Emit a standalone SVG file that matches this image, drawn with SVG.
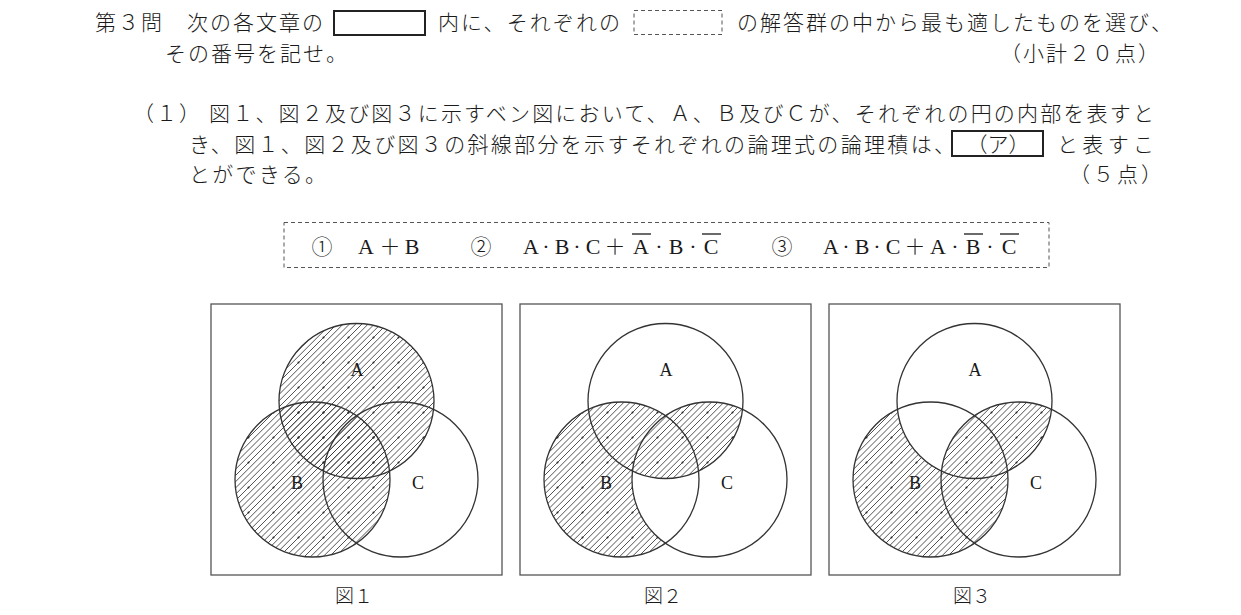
<svg xmlns="http://www.w3.org/2000/svg" width="1241" height="615" viewBox="0 0 1241 615">
<style>
  .jp { font-family: "Noto Sans CJK JP", "Noto Sans CJK SC", sans-serif; font-size: 21px; font-weight: 300; fill: #1a1a1a; }
  .jpm { font-family: "Noto Sans CJK JP", "Noto Sans CJK SC", sans-serif; font-size: 21px; font-weight: 300; fill: #1a1a1a; text-anchor: middle; }
  .lat { font-family: "Liberation Serif", "Noto Sans CJK JP", serif; font-size: 22px; fill: #1a1a1a; text-anchor: middle; }
  .lbl { font-family: "Liberation Serif", serif; font-size: 18px; fill: #1a1a1a; text-anchor: middle; }
  .cap { font-family: "Noto Sans CJK JP", sans-serif; font-size: 19px; font-weight: 300; fill: #1a1a1a; text-anchor: middle; }
  .frame { fill: none; stroke: #555; stroke-width: 1.3; }
  .circ { fill: none; stroke: #333; stroke-width: 1.3; }
  .hatch { fill: url(#hatch); stroke: none; }
  .solidbox { fill: none; stroke: #222; stroke-width: 2; }
  .dashbox { fill: none; stroke: #555; stroke-width: 1; stroke-dasharray: 4 3; }
  .ovl { stroke: #1a1a1a; stroke-width: 1.3; }
</style>
<defs>
  <pattern id="hatch" patternUnits="userSpaceOnUse" width="25" height="25">
    <path d="M-2,2 L2,-2 M-2,8.25 L8.25,-2 M-2,14.5 L14.5,-2 M-2,20.75 L20.75,-2 M-2,27 L27,-2 M-2,33.25 L33.25,-2 M-2,39.5 L39.5,-2 M-2,45.75 L45.75,-2 M-2,52 L52,-2" stroke="#333" stroke-width="0.85" fill="none"/>
    <circle cx="12.5" cy="12.5" r="1" fill="#222"/>
  </pattern>
  <clipPath id="clipA"><circle cx="145.5" cy="401" r="77.5"/></clipPath>
  <mask id="noC" maskUnits="userSpaceOnUse" x="-10" y="290" width="320" height="300">
    <rect x="-10" y="290" width="320" height="300" fill="#fff"/>
    <circle cx="189.5" cy="479.5" r="77.5" fill="#000"/>
  </mask>
  <mask id="noA" maskUnits="userSpaceOnUse" x="-10" y="290" width="320" height="300">
    <rect x="-10" y="290" width="320" height="300" fill="#fff"/>
    <circle cx="145.5" cy="401" r="77.5" fill="#000"/>
  </mask>
</defs>

<g id="header">
  <text class="jp" x="95" y="30" textLength="228" lengthAdjust="spacing">第３問　次の各文章の</text>
  <rect class="solidbox" x="334" y="11" width="91" height="24"/>
  <text class="jp" x="438" y="30" textLength="182" lengthAdjust="spacing">内に、それぞれの</text>
  <rect class="dashbox" x="634" y="10.5" width="88" height="24"/>
  <text class="jp" x="737" y="30" textLength="435" lengthAdjust="spacing">の解答群の中から最も適したものを選び、</text>
  <text class="jp" x="165" y="61" textLength="182" lengthAdjust="spacing">その番号を記せ。</text>
  <text class="jp" x="1000" y="61" textLength="159" lengthAdjust="spacing">（小計２０点）</text>
</g>

<g id="question">
  <text class="jp" x="133" y="121" textLength="67" lengthAdjust="spacing">（１）</text>
  <text class="jp" x="209" y="121" textLength="945" lengthAdjust="spacing">図１、図２及び図３に示すベン図において、Ａ、Ｂ及びＣが、それぞれの円の内部を表すと</text>
  <text class="jp" x="189" y="152" textLength="766" lengthAdjust="spacing">き、図１、図２及び図３の斜線部分を示すそれぞれの論理式の論理積は、</text>
  <rect class="solidbox" x="952" y="131" width="91" height="25"/>
  <text class="jpm" x="998" y="152">（ア）</text>
  <text class="jp" x="1057" y="152" textLength="97" lengthAdjust="spacing">と表すこ</text>
  <text class="jp" x="189" y="182" textLength="137" lengthAdjust="spacing">とができる。</text>
  <text class="jp" x="1069" y="182" textLength="93" lengthAdjust="spacing">（５点）</text>
</g>

<g id="options">
  <rect class="dashbox" x="284" y="222.5" width="765" height="45"/>
  <text class="jpm" x="322" y="254">①</text>
  <text class="lat" x="366" y="254">A</text>
  <text class="jpm" x="390" y="254">＋</text>
  <text class="lat" x="412" y="254">B</text>

  <text class="jpm" x="481" y="254">②</text>
  <text class="lat" x="531" y="254">A</text>
  <text class="lat" x="546" y="254">·</text>
  <text class="lat" x="562" y="254">B</text>
  <text class="lat" x="577" y="254">·</text>
  <text class="lat" x="593" y="254">C</text>
  <text class="jpm" x="615" y="254">＋</text>
  <text class="lat" x="641" y="254">A</text>
  <text class="lat" x="659" y="254">·</text>
  <text class="lat" x="676" y="254">B</text>
  <text class="lat" x="693" y="254">·</text>
  <text class="lat" x="711" y="254">C</text>
  <line class="ovl" x1="632" y1="234" x2="651" y2="234"/>
  <line class="ovl" x1="702" y1="234" x2="721" y2="234"/>

  <text class="jpm" x="782" y="254">③</text>
  <text class="lat" x="831" y="254">A</text>
  <text class="lat" x="846" y="254">·</text>
  <text class="lat" x="862" y="254">B</text>
  <text class="lat" x="877" y="254">·</text>
  <text class="lat" x="893" y="254">C</text>
  <text class="jpm" x="915" y="254">＋</text>
  <text class="lat" x="938" y="254">A</text>
  <text class="lat" x="955" y="254">·</text>
  <text class="lat" x="973" y="254">B</text>
  <text class="lat" x="990" y="254">·</text>
  <text class="lat" x="1009" y="254">C</text>
  <line class="ovl" x1="964" y1="234" x2="983" y2="234"/>
  <line class="ovl" x1="1000" y1="234" x2="1019" y2="234"/>
</g>

<g id="fig1" transform="translate(211,0)">
  <rect class="frame" x="0" y="304" width="291" height="271"/>
  <circle class="hatch" cx="145.5" cy="401" r="77.5"/>
  <circle class="hatch" cx="101.5" cy="479.5" r="77.5"/>
  <circle class="circ" cx="145.5" cy="401" r="77.5"/>
  <circle class="circ" cx="101.5" cy="479.5" r="77.5"/>
  <circle class="circ" cx="189.5" cy="479.5" r="77.5"/>
  <text class="lbl" x="146" y="376">A</text>
  <text class="lbl" x="86" y="489">B</text>
  <text class="lbl" x="207" y="489">C</text>
  <text class="cap" x="143" y="603">図１</text>
</g>

<g id="fig2" transform="translate(520,0)">
  <rect class="frame" x="0" y="304" width="291" height="271"/>
  <circle class="hatch" cx="101.5" cy="479.5" r="77.5" mask="url(#noC)"/>
  <circle class="hatch" cx="189.5" cy="479.5" r="77.5" clip-path="url(#clipA)"/>
  <circle class="circ" cx="145.5" cy="401" r="77.5"/>
  <circle class="circ" cx="101.5" cy="479.5" r="77.5"/>
  <circle class="circ" cx="189.5" cy="479.5" r="77.5"/>
  <text class="lbl" x="146" y="376">A</text>
  <text class="lbl" x="86" y="489">B</text>
  <text class="lbl" x="207" y="489">C</text>
  <text class="cap" x="143" y="603">図２</text>
</g>

<g id="fig3" transform="translate(829,0)">
  <rect class="frame" x="0" y="304" width="291" height="271"/>
  <circle class="hatch" cx="101.5" cy="479.5" r="77.5" mask="url(#noA)"/>
  <circle class="hatch" cx="189.5" cy="479.5" r="77.5" clip-path="url(#clipA)"/>
  <circle class="circ" cx="145.5" cy="401" r="77.5"/>
  <circle class="circ" cx="101.5" cy="479.5" r="77.5"/>
  <circle class="circ" cx="189.5" cy="479.5" r="77.5"/>
  <text class="lbl" x="146" y="376">A</text>
  <text class="lbl" x="86" y="489">B</text>
  <text class="lbl" x="207" y="489">C</text>
  <text class="cap" x="143" y="603">図３</text>
</g>
</svg>
